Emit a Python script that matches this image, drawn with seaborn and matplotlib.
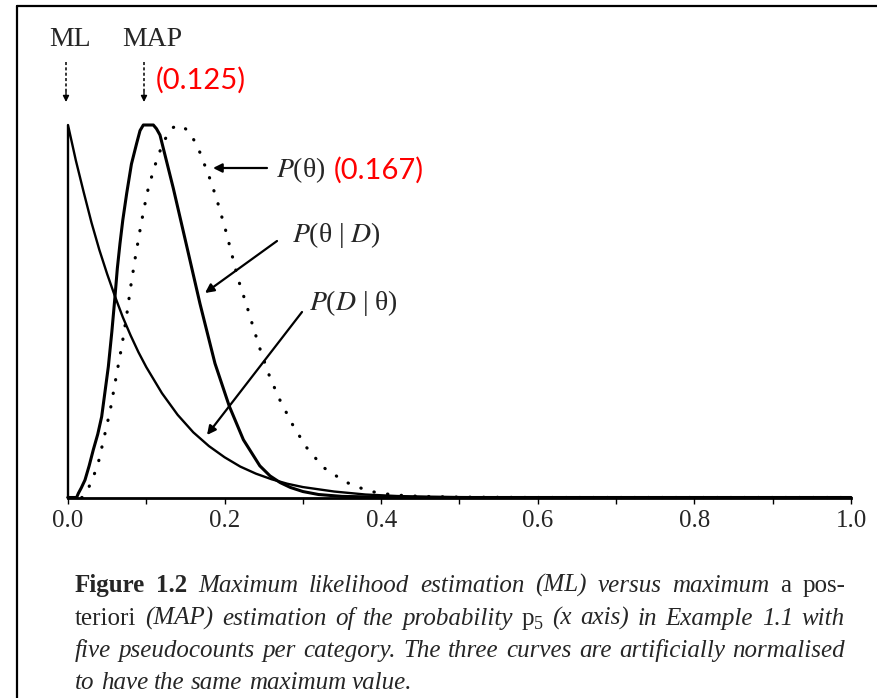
import numpy as np
import pandas as pd
import matplotlib
matplotlib.use("Agg")
import matplotlib.pyplot as plt
import seaborn as sns

# ---------------- data ----------------
lik_x = [0.0, 0.0, 0.01, 0.02, 0.03, 0.04, 0.05, 0.06, 0.07, 0.08, 0.09, 0.10, 0.12,
         0.14, 0.16, 0.18, 0.20, 0.22, 0.24, 0.26, 0.28, 0.30, 0.34, 0.38, 0.42,
         0.46, 0.50, 0.60, 1.0]
lik_y = [0.0, 1.0, 0.905, 0.82, 0.738, 0.665, 0.60, 0.54, 0.484, 0.435, 0.39, 0.35,
         0.28, 0.222, 0.175, 0.138, 0.108, 0.083, 0.064, 0.049, 0.037, 0.028, 0.016,
         0.008, 0.004, 0.002, 0.001, 0.0, 0.0]

post_x = [0.0, 0.011, 0.0132, 0.017, 0.0217, 0.027, 0.0323, 0.038, 0.043, 0.047,
          0.0515, 0.056, 0.060, 0.063, 0.0664, 0.070, 0.075, 0.081, 0.0877, 0.092,
          0.0962, 0.109, 0.113, 0.1175, 0.1345, 0.1516, 0.1686, 0.1877, 0.206,
          0.224, 0.245, 0.258, 0.271, 0.284, 0.30, 0.32, 0.35, 0.40, 0.50, 0.60, 1.0]
post_y = [0.0, 0.0, 0.011, 0.026, 0.047, 0.085, 0.128, 0.17, 0.217, 0.28,
          0.351, 0.445, 0.539, 0.615, 0.682, 0.745, 0.817, 0.895, 0.951, 0.985,
          1.0, 1.0, 0.99, 0.973, 0.83, 0.675, 0.52, 0.36, 0.245,
          0.155, 0.085, 0.058, 0.040, 0.027, 0.016, 0.008, 0.003, 0.001, 0.0, 0.0, 0.0]

prior_x = [0.0, 0.018, 0.023, 0.028, 0.034, 0.039, 0.046, 0.054, 0.062, 0.069, 0.075,
           0.080, 0.086, 0.092, 0.097, 0.102, 0.110, 0.120, 0.128, 0.134, 0.141,
           0.148, 0.156, 0.162, 0.169, 0.175, 0.181, 0.186, 0.192, 0.201, 0.209,
           0.217, 0.228, 0.237, 0.247, 0.258, 0.271, 0.287, 0.304, 0.326, 0.354,
           0.384, 0.415, 0.45, 0.50, 0.60, 1.0]
prior_y = [0.0, 0.0, 0.012, 0.034, 0.065, 0.096, 0.160, 0.235, 0.330, 0.410, 0.490,
           0.565, 0.645, 0.718, 0.775, 0.825, 0.885, 0.945, 0.978, 0.993, 1.0,
           0.994, 0.978, 0.955, 0.924, 0.890, 0.857, 0.826, 0.786, 0.720, 0.655,
           0.588, 0.517, 0.454, 0.387, 0.322, 0.260, 0.195, 0.136, 0.081, 0.042,
           0.017, 0.007, 0.003, 0.001, 0.0, 0.0]

major_ticks = [0.0, 0.2, 0.4, 0.6, 0.8, 1.0]
major_labels = ["0.0", "0.2", "0.4", "0.6", "0.8", "1.0"]
minor_ticks = [0.1, 0.3, 0.5, 0.7, 0.9]

curve_labels = ["$P$(θ)", "$P$(θ | $D$)", "$P$($D$ | θ)"]
marker_labels = ["ML", "MAP"]
red_labels = ["(0.125)", "(0.167)"]

# ---------------- style ----------------
sns.set_style("white")
plt.rcParams["font.family"] = ["Liberation Serif", "DejaVu Serif"]
plt.rcParams["mathtext.fontset"] = "stix"

W, H = 878, 698
fig = plt.figure(figsize=(W / 100, H / 100), dpi=100)

def fx(px):
    return px / W

def fy(py):
    return (H - py) / H

# axes: x=0 at px 68, x=1 at px 851; y=0 at py 497.5, y=1 at py 125
ax = fig.add_axes([fx(68), fy(497.5), fx(851) - fx(68), fy(125) - fy(497.5)])

df_lik = pd.DataFrame({"theta": lik_x, "value": lik_y})
df_post = pd.DataFrame({"theta": post_x, "value": post_y})
df_prior = pd.DataFrame({"theta": prior_x, "value": prior_y})

sns.lineplot(data=df_lik, x="theta", y="value", ax=ax, estimator=None, sort=False,
             color="black", linewidth=1.7)
sns.lineplot(data=df_post, x="theta", y="value", ax=ax, estimator=None, sort=False,
             color="black", linewidth=2.2)
sns.lineplot(data=df_prior, x="theta", y="value", ax=ax, estimator=None, sort=False,
             color="black", linewidth=2.3)
lines = ax.get_lines()
lines[2].set_linestyle((0, (0.1, 4.2)))
lines[2].set_dash_capstyle("round")
for ln in lines:
    ln.set_clip_on(False)
    ln.set_solid_joinstyle("round")

ax.set_xlim(0, 1)
ax.set_ylim(0, 1)
ax.set_xlabel("")
ax.set_ylabel("")
ax.set_yticks([])
ax.set_xticks(major_ticks)
ax.set_xticklabels(major_labels, fontsize=18)
ax.set_xticks(minor_ticks, minor=True)
ax.tick_params(axis="x", which="both", direction="out", length=4, width=1,
               color="black", pad=5, bottom=True)
for s in ["left", "top", "right"]:
    ax.spines[s].set_visible(False)
ax.spines["bottom"].set_linewidth(2)
ax.spines["bottom"].set_color("black")
ax.patch.set_alpha(0)

# ---------------- annotations ----------------
def fp(px, py):
    return (px, H - py)

fig.text(fx(49), fy(39), marker_labels[0], fontsize=20, va="center", ha="left")
fig.text(fx(122), fy(39), marker_labels[1], fontsize=20, va="center", ha="left")

for xpx in (66, 144):
    fig.add_artist(plt.Line2D([fx(xpx), fx(xpx)], [fy(62), fy(94)],
                              transform=fig.transFigure, color="black",
                              lw=1.1, linestyle=(0, (2, 1.5))))
    ax.annotate("", xy=fp(xpx, 102), xytext=fp(xpx, 92),
                xycoords="figure pixels", textcoords="figure pixels",
                arrowprops=dict(arrowstyle="-|>", color="black", lw=1.0,
                                mutation_scale=9, shrinkA=0, shrinkB=0))

red_font = ["Lato", "DejaVu Sans"]
fig.text(fx(156), fy(80), red_labels[0], fontsize=21, color="#ff0000",
         va="center", ha="left", family=red_font)
fig.text(fx(334), fy(170), red_labels[1], fontsize=21, color="#ff0000",
         va="center", ha="left", family=red_font)

fig.text(fx(276), fy(170), curve_labels[0], fontsize=20, va="center", ha="left")
fig.text(fx(292), fy(235), curve_labels[1], fontsize=20, va="center", ha="left")
fig.text(fx(309), fy(303), curve_labels[2], fontsize=20, va="center", ha="left")

arrow_kw = dict(arrowstyle="-|>", color="black", lw=1.6, mutation_scale=13,
                shrinkA=0, shrinkB=0)
for tail, head in [((267, 168), (213, 168)),
                   ((277, 241), (205, 293)),
                   ((302, 312), (207, 435))]:
    ax.annotate("", xy=fp(*head), xytext=fp(*tail),
                xycoords="figure pixels", textcoords="figure pixels",
                arrowprops=arrow_kw)

# frame lines
fig.add_artist(plt.Line2D([fx(17), fx(878)], [fy(6), fy(6)],
                          transform=fig.transFigure, color="black", lw=1.6))
fig.add_artist(plt.Line2D([fx(17), fx(17)], [fy(6), fy(698)],
                          transform=fig.transFigure, color="black", lw=1.6))

# ---------------- caption (justified) ----------------
R = dict(style="normal", weight="normal")
B = dict(style="normal", weight="bold")
I = dict(style="italic", weight="normal")

cap_lines = [
    ([[("Figure", B)], [("1.2", B)], [("Maximum", I)], [("likelihood", I)],
      [("estimation", I)], [("(ML)", I)], [("versus", I)], [("maximum", I)],
      [("a", R)], [("pos-", R)]], True),
    ([[("teriori", R)], [("(MAP)", I)], [("estimation", I)], [("of", I)],
      [("the", I)], [("probability", I)], [("p", R), ("_5", R)], [("(x", I)],
      [("axis)", I)], [("in", I)], [("Example", I)], [("1.1", I)], [("with", I)]], True),
    ([[("five", I)], [("pseudocounts", I)], [("per", I)], [("category.", I)],
      [("The", I)], [("three", I)], [("curves", I)], [("are", I)],
      [("artificially", I)], [("normalised", I)]], True),
    ([[("to", I)], [("have", I)], [("the", I)], [("same", I)], [("maximum", I)],
      [("value.", I)]], False),
]

cap_fs = 18
x_left, x_right = 75, 845
baselines = [592, 625, 657, 689]
renderer = fig.canvas.get_renderer()

def make_word(segs, x, ybase):
    arts = []
    cx = x
    for txt, st in segs:
        if txt.startswith("_"):
            t = fig.text(fx(cx), fy(ybase + 4), txt[1:], fontsize=cap_fs * 0.72,
                         va="baseline", ha="left", **st)
        else:
            t = fig.text(fx(cx), fy(ybase), txt, fontsize=cap_fs,
                         va="baseline", ha="left", **st)
        bb = t.get_window_extent(renderer)
        cx += bb.width
        arts.append(t)
    return arts, cx - x

t1 = fig.text(0, 0, "a a", fontsize=cap_fs, **I)
t2 = fig.text(0, 0, "aa", fontsize=cap_fs, **I)
space_w = t1.get_window_extent(renderer).width - t2.get_window_extent(renderer).width
t1.remove()
t2.remove()

for (words, justify), yb in zip(cap_lines, baselines):
    widths = []
    for w in words:
        arts, wd = make_word(w, 0, yb)
        widths.append(wd)
        for a in arts:
            a.remove()
    if justify:
        gap = (x_right - x_left - sum(widths)) / (len(words) - 1)
    else:
        gap = space_w
    cx = x_left
    for w, wd in zip(words, widths):
        make_word(w, cx, yb)
        cx += wd + gap

fig.savefig("out.png", dpi=100)
